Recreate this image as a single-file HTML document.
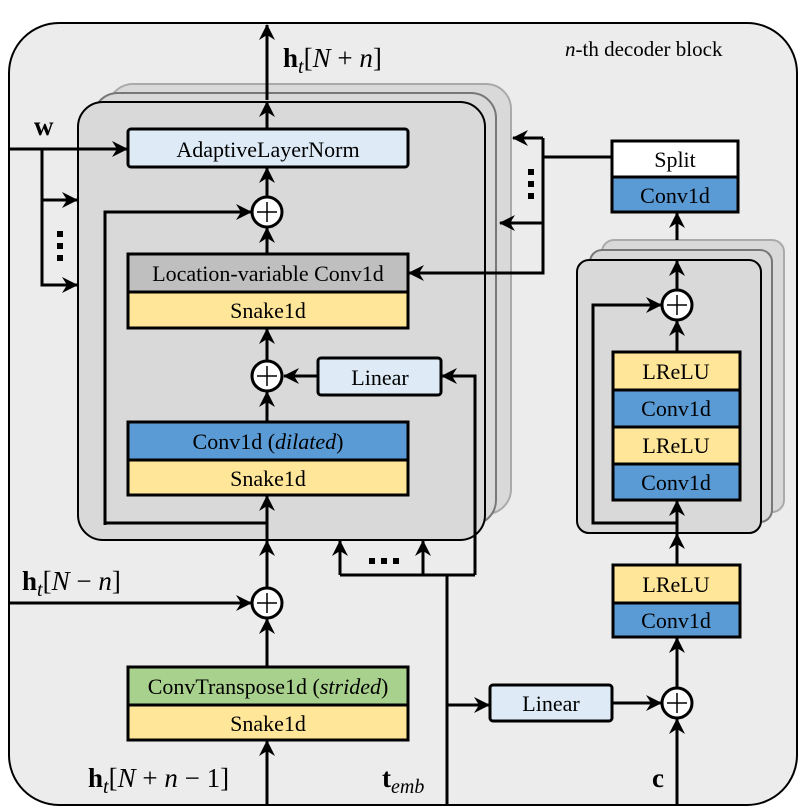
<!DOCTYPE html>
<html><head><style>body{margin:0;background:#fff}svg{display:block}text{font-family:"Liberation Serif",serif;fill:#000}</style></head>
<body>
<svg width="800" height="812" viewBox="0 0 800 812" xmlns="http://www.w3.org/2000/svg">
<defs>
<marker id="a" viewBox="0 0 16 16" refX="15" refY="8" markerWidth="16" markerHeight="16" markerUnits="userSpaceOnUse" orient="auto"><path d="M0,0 L16,8 L0,16 L5,8 Z" fill="#000"/></marker>
</defs>
<rect x="9" y="23" width="788" height="782" rx="50" fill="#ececec" stroke="#000" stroke-width="2"/>
<rect x="108" y="84" width="403" height="430" rx="25" fill="#d9d9d9" stroke="#aaa" stroke-width="2"/>
<rect x="93" y="93" width="403" height="432" rx="25" fill="#d9d9d9" stroke="#777" stroke-width="2"/>
<rect x="78" y="102" width="407" height="438" rx="25" fill="#d9d9d9" stroke="#000" stroke-width="2"/>
<rect x="602" y="240" width="182" height="272" rx="12" fill="#d9d9d9" stroke="#aaa" stroke-width="2"/>
<rect x="590" y="250" width="182" height="272" rx="12" fill="#d9d9d9" stroke="#777" stroke-width="2"/>
<rect x="577" y="260" width="184" height="273" rx="12" fill="#d9d9d9" stroke="#000" stroke-width="2"/>

<g stroke="#000" stroke-width="3" fill="none">
<path d="M267 100 V25" marker-end="url(#a)"/>
<path d="M267 129 V102" marker-end="url(#a)"/>
<path d="M267 197 V168" marker-end="url(#a)"/>
<path d="M267 254 V228" marker-end="url(#a)"/>
<path d="M105 525 V212 H251" marker-end="url(#a)"/>
<path d="M267 422 V392" marker-end="url(#a)"/>
<path d="M267 360 V329" marker-end="url(#a)"/>
<path d="M318 376 H284" marker-end="url(#a)"/>
<path d="M105 523 H267"/>
<path d="M267 618 V496" marker-end="url(#a)"/>
<path d="M267 587 V541" marker-end="url(#a)"/>
<path d="M475 575 V376 H442" marker-end="url(#a)"/>
<path d="M340 575 H475"/>
<path d="M340 575 V541" marker-end="url(#a)"/>
<path d="M423 575 V541" marker-end="url(#a)"/>
<path d="M447 805 V575"/>
<path d="M447 705 H489" marker-end="url(#a)"/>
<path d="M612 703 H661" marker-end="url(#a)"/>
<path d="M677 805 V719" marker-end="url(#a)"/>
<path d="M677 687 V638" marker-end="url(#a)"/>
<path d="M677 565 V534" marker-end="url(#a)"/>
<path d="M677 533 V501" marker-end="url(#a)"/>
<path d="M677 352 V321" marker-end="url(#a)"/>
<path d="M677 289 V261" marker-end="url(#a)"/>
<path d="M677 240 V213" marker-end="url(#a)"/>
<path d="M677 523 H593 V305 H661" marker-end="url(#a)"/>
<path d="M9 603 H251" marker-end="url(#a)"/>
<path d="M267 667 V619" marker-end="url(#a)"/>
<path d="M267 805 V741" marker-end="url(#a)"/>
<path d="M9 149 H127" marker-end="url(#a)"/>
<path d="M42 149 V285 H77" marker-end="url(#a)"/>
<path d="M42 200 H77" marker-end="url(#a)"/>
<path d="M612 157 H543"/>
<path d="M543 138 V273 H409" marker-end="url(#a)"/>
<path d="M543 138 H513" marker-end="url(#a)"/>
<path d="M543 223 H500" marker-end="url(#a)"/>
</g>

<g fill="#000"><rect x="57" y="231" width="6" height="6"/><rect x="57" y="243" width="6" height="6"/><rect x="57" y="255" width="6" height="6"/>
<rect x="528" y="169" width="6" height="6"/><rect x="528" y="181" width="6" height="6"/><rect x="528" y="193" width="6" height="6"/>
<rect x="369" y="558" width="6" height="6"/><rect x="381" y="558" width="6" height="6"/><rect x="393" y="558" width="6" height="6"/></g>

<g stroke="#000" stroke-width="3" fill="#fff">
<circle cx="267" cy="212" r="15"/><circle cx="267" cy="376" r="15"/><circle cx="267" cy="603" r="15"/><circle cx="677" cy="305" r="15"/><circle cx="677" cy="703" r="15"/>
</g>
<g stroke="#000" stroke-width="1.5">
<path d="M257 212 H277 M267 202 V222"/><path d="M257 376 H277 M267 366 V386"/><path d="M257 603 H277 M267 593 V613"/><path d="M667 305 H687 M677 295 V315"/><path d="M667 703 H687 M677 693 V713"/>
</g>

<g stroke="#000" stroke-width="3">
<rect x="128" y="129" width="280" height="38" rx="3" fill="#deebf7"/>
<rect x="128" y="254" width="280" height="38" fill="#bfbfbf"/>
<rect x="128" y="292" width="280" height="36" fill="#ffe699"/>
<rect x="318" y="358" width="123" height="37" rx="3" fill="#deebf7"/>
<rect x="128" y="422" width="280" height="38" fill="#5b9bd5"/>
<rect x="128" y="460" width="280" height="35" fill="#ffe699"/>
<rect x="128" y="667" width="280" height="38" fill="#a9d18e"/>
<rect x="128" y="705" width="280" height="35" fill="#ffe699"/>
<rect x="490" y="685" width="122" height="36" rx="3" fill="#deebf7"/>
<rect x="613" y="565" width="127" height="38" fill="#ffe699"/>
<rect x="613" y="603" width="127" height="34" fill="#5b9bd5"/>
<rect x="613" y="352" width="127" height="38" fill="#ffe699"/>
<rect x="613" y="390" width="127" height="37" fill="#5b9bd5"/>
<rect x="613" y="427" width="127" height="37" fill="#ffe699"/>
<rect x="613" y="464" width="127" height="36" fill="#5b9bd5"/>
<rect x="612" y="141" width="126" height="36" fill="#fff"/>
<rect x="612" y="177" width="126" height="35" fill="#5b9bd5"/>
</g>

<g font-size="22" text-anchor="middle">
<text x="268" y="157">AdaptiveLayerNorm</text>
<text x="268" y="281">Location-variable Conv1d</text>
<text x="268" y="318">Snake1d</text>
<text x="380" y="385">Linear</text>
<text x="268" y="449">Conv1d (<tspan font-style="italic">dilated</tspan>)</text>
<text x="268" y="486">Snake1d</text>
<text x="268" y="694">ConvTranspose1d (<tspan font-style="italic">strided</tspan>)</text>
<text x="268" y="731">Snake1d</text>
<text x="551" y="711">Linear</text>
<text x="676" y="592">LReLU</text>
<text x="676" y="628">Conv1d</text>
<text x="676" y="379">LReLU</text>
<text x="676" y="416">Conv1d</text>
<text x="676" y="453">LReLU</text>
<text x="676" y="490">Conv1d</text>
<text x="675" y="167">Split</text>
<text x="675" y="203">Conv1d</text>
</g>
<g font-size="27">
<text x="283" y="67"><tspan font-weight="bold">h</tspan><tspan font-style="italic" font-size="20" dy="6">t</tspan><tspan dy="-6">[</tspan><tspan font-style="italic">N</tspan> + <tspan font-style="italic">n</tspan>]</text>
<text x="22" y="590"><tspan font-weight="bold">h</tspan><tspan font-style="italic" font-size="20" dy="6">t</tspan><tspan dy="-6">[</tspan><tspan font-style="italic">N</tspan> − <tspan font-style="italic">n</tspan>]</text>
<text x="88" y="787"><tspan font-weight="bold">h</tspan><tspan font-style="italic" font-size="20" dy="6">t</tspan><tspan dy="-6">[</tspan><tspan font-style="italic">N</tspan> + <tspan font-style="italic">n</tspan> − 1]</text>
<text x="382" y="787"><tspan font-weight="bold">t</tspan><tspan font-style="italic" font-size="20" dy="6">emb</tspan></text>
<text x="652" y="787" font-weight="bold">c</text>
<text x="34" y="135" font-weight="bold">w</text>
</g>
<text x="565" y="56" font-size="21"><tspan font-style="italic">n</tspan>-th decoder block</text>
</svg>
</body></html>
